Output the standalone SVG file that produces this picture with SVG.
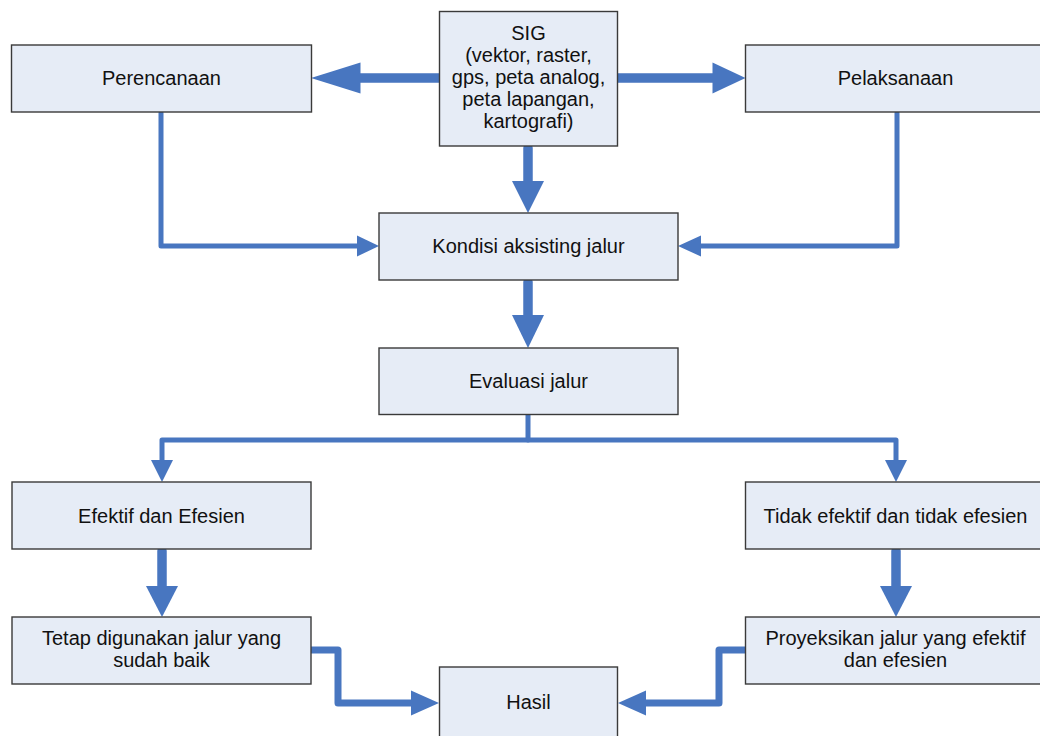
<svg xmlns="http://www.w3.org/2000/svg" width="1040" height="736" viewBox="0 0 1040 736">
<style>
.box{fill:#E6ECF6;stroke:#3A3A3A;stroke-width:1.4}
.t{font-family:"Liberation Sans",Arial,sans-serif;font-size:20px;fill:#111;text-anchor:middle}
.c{fill:none;stroke:#4876C0;stroke-linecap:round;stroke-linejoin:round}
.thick{stroke-width:9.5}
.mid{stroke-width:7}
.thin{stroke-width:5}
.h{fill:#4876C0;stroke:none}
</style>
<rect width="1040" height="736" fill="#fff"/>
<g id="connectors">
<line class="c thick" x1="445" y1="78" x2="358" y2="78"/>
<polygon class="h" points="360.5,62.5 311,78 360.5,93.5"/>
<line class="c thick" x1="616.5" y1="78" x2="714" y2="78"/>
<polygon class="h" points="712.5,62.5 745.5,78 712.5,93.5"/>
<line class="c thick" x1="528" y1="148" x2="528" y2="183"/>
<polygon class="h" points="512,181 528,213 544,181"/>
<line class="c thick" x1="528" y1="282" x2="528" y2="317"/>
<polygon class="h" points="512,315 528,348 544,315"/>
<line class="c thick" x1="162" y1="551" x2="162" y2="588"/>
<polygon class="h" points="146,586 162,617 178,586"/>
<line class="c thick" x1="896" y1="551" x2="896" y2="588"/>
<polygon class="h" points="880,586 896,617 912,586"/>
<path class="c thin" d="M161,113 V246 H358"/>
<polygon class="h" points="357,235.5 379,246 357,256.5"/>
<path class="c thin" d="M897,113 V246 H700"/>
<polygon class="h" points="701,235.5 678,246 701,256.5"/>
<path class="c thin" d="M528,413 V440"/>
<path class="c thin" d="M162,461 V440 H896 V461"/>
<polygon class="h" points="151,460 162,482 173,460"/>
<polygon class="h" points="885,460 896,482 907,460"/>
<path class="c mid" d="M311,650 H338 V703 H412"/>
<polygon class="h" points="411,690.5 439,703 411,715.5"/>
<path class="c mid" d="M746,650 H719 V703 H645"/>
<polygon class="h" points="646,690.5 618,703 646,715.5"/>
</g>
<g id="perencanaan"><rect class="box" x="11.5" y="45" width="300" height="67"/><text class="t" x="161.5" y="85">Perencanaan</text></g>
<g id="sig"><rect class="box" x="439.5" y="11.5" width="178" height="134.5"/>
<text class="t" x="528.5" y="40">SIG</text>
<text class="t" x="528.5" y="62">(vektor, raster,</text>
<text class="t" x="528.5" y="84">gps, peta analog,</text>
<text class="t" x="528.5" y="106">peta lapangan,</text>
<text class="t" x="528.5" y="128">kartografi)</text></g>
<g id="pelaksanaan"><rect class="box" x="745.5" y="45" width="300" height="67"/><text class="t" x="895.5" y="85">Pelaksanaan</text></g>
<g id="kondisi"><rect class="box" x="379" y="213" width="299" height="67"/><text class="t" x="528.5" y="253">Kondisi aksisting jalur</text></g>
<g id="evaluasi"><rect class="box" x="379" y="348" width="299" height="66.5"/><text class="t" x="528.5" y="388">Evaluasi jalur</text></g>
<g id="efektif"><rect class="box" x="12" y="482" width="299" height="67"/><text class="t" x="161.5" y="523">Efektif dan Efesien</text></g>
<g id="tidak"><rect class="box" x="745.5" y="482" width="300" height="67"/><text class="t" x="895.5" y="523">Tidak efektif dan tidak efesien</text></g>
<g id="tetap"><rect class="box" x="12" y="617" width="299" height="67"/>
<text class="t" x="161.5" y="645">Tetap digunakan jalur yang</text>
<text class="t" x="161.5" y="667">sudah baik</text></g>
<g id="proyeksikan"><rect class="box" x="745.5" y="617" width="300" height="67"/>
<text class="t" x="895.5" y="645">Proyeksikan jalur yang efektif</text>
<text class="t" x="895.5" y="667">dan efesien</text></g>
<g id="hasil"><rect class="box" x="439.5" y="667" width="178" height="90"/><text class="t" x="528.5" y="709">Hasil</text></g>
</svg>
